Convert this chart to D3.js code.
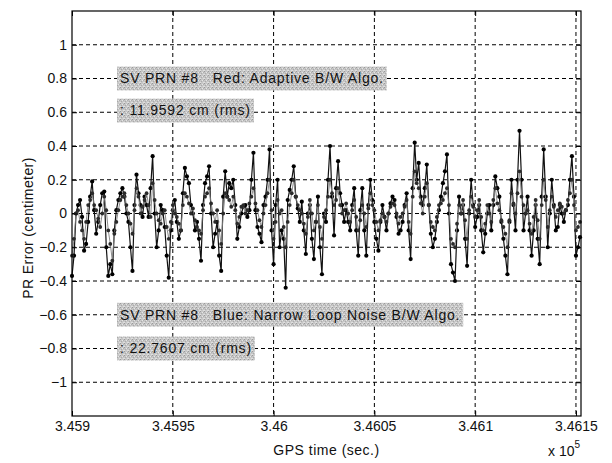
<!DOCTYPE html>
<html>
<head>
<meta charset="utf-8">
<script src="https://cdn.jsdelivr.net/npm/d3@7"></script>
<style>
  body { margin: 0; background: #fff; }
  svg text { font-family: "Liberation Sans", Arial, sans-serif; }
</style>
</head>
<body>
<div id="chart"></div>
<script>
// one sample per second starting at 345900 s
var t0 = 345900, step = 1;

// Blue: Narrow Loop Noise B/W Algo. (dark trace)
var blueErr = [
  -0.37, -0.25, 0.0, 0.05, 0.08, -0.02, -0.22, -0.18, -0.05, 0.1, 0.19, 0.02, -0.12, -0.05, 0.05, 0.12, 0.13, -0.2, -0.37, -0.3,
  -0.36, -0.1, 0.02, 0.08, 0.12, 0.15, 0.1, 0.0, -0.05, -0.2, -0.34, 0.05, 0.23, 0.12, 0.05, -0.02, 0.1, 0.05, -0.02, 0.15,
  0.34, 0.0, -0.2, -0.1, 0.05, 0.02, -0.08, -0.25, -0.38, -0.1, 0.02, 0.08, -0.05, -0.15, -0.1, 0.12, 0.27, 0.22, 0.18, 0.05,
  0.0, -0.1, -0.05, -0.15, -0.28, 0.05, 0.18, 0.22, 0.28, 0.0, -0.2, -0.12, -0.05, -0.25, -0.34, 0.1, 0.25, 0.1, 0.18, 0.15,
  0.2, 0.05, -0.15, -0.08, 0.0, 0.04, 0.05, -0.02, 0.02, 0.2, 0.36, 0.02, -0.08, -0.12, -0.17, 0.05, 0.1, 0.2, 0.38, -0.1,
  -0.3, 0.05, 0.2, -0.2, -0.1, -0.15, -0.44, 0.08, 0.14, 0.2, 0.28, 0.1, 0.03, -0.05, 0.07, -0.1, -0.24, 0.0, 0.05, -0.15,
  -0.27, -0.05, 0.1, -0.2, -0.36, 0.0, -0.05, 0.2, 0.4, 0.1, -0.13, 0.15, 0.31, 0.12, 0.05, -0.05, 0.02, -0.05, -0.1, 0.05,
  0.15, -0.1, -0.25, 0.02, 0.15, -0.1, -0.25, 0.05, 0.2, 0.08, -0.05, -0.15, -0.22, -0.05, 0.05, -0.02, -0.1, 0.0, 0.06, 0.1,
  0.08, -0.02, -0.12, -0.1, -0.05, 0.05, 0.12, -0.1, -0.27, 0.15, 0.42, 0.2, 0.3, 0.1, 0.05, 0.15, 0.29, 0.05, -0.12, -0.2,
  -0.15, -0.05, 0.02, 0.1, 0.18, 0.25, 0.35, 0.0, -0.3, -0.35, -0.4, -0.1, 0.1, 0.0, 0.05, -0.15, -0.31, 0.0, 0.2, 0.05,
  -0.08, -0.02, 0.05, -0.1, -0.23, -0.12, 0.0, 0.05, -0.1, 0.05, 0.22, 0.15, 0.1, -0.05, -0.15, -0.25, -0.36, -0.05, 0.2, 0.05,
  -0.1, 0.2, 0.49, 0.2, -0.1, 0.0, 0.1, -0.1, -0.25, -0.1, 0.05, -0.15, -0.3, 0.1, 0.38, 0.1, -0.2, 0.0, 0.2, 0.05,
  -0.1, -0.08, 0.05, 0.0, -0.05, 0.02, 0.05, 0.2, 0.34, 0.1, -0.25, -0.2, -0.14
];

// Red: Adaptive B/W Algo. (gray trace)
var redErr = [
  -0.25, -0.15, 0.0, 0.02, -0.05, -0.1, -0.15, -0.05, 0.05, 0.08, 0.12, 0.05, 0.02, -0.03, -0.08, 0.0, 0.1, 0.02, -0.1, -0.18,
  -0.28, -0.12, -0.05, 0.02, 0.08, 0.1, 0.12, 0.05, 0.0, -0.06, -0.12, 0.02, 0.15, 0.1, 0.0, 0.04, 0.08, 0.12, 0.05, -0.02,
  0.18, 0.08, 0.0, -0.04, -0.06, 0.0, 0.02, -0.08, -0.15, -0.05, 0.05, 0.0, -0.02, -0.06, -0.1, 0.05, 0.12, 0.1, 0.06, 0.0,
  0.03, -0.04, -0.08, -0.1, -0.12, 0.02, 0.1, 0.12, 0.15, 0.06, 0.0, -0.05, 0.02, -0.1, -0.18, 0.0, 0.12, 0.1, 0.08, 0.04,
  0.1, 0.02, -0.06, -0.02, 0.04, 0.05, 0.0, 0.02, 0.06, 0.1, 0.15, 0.06, 0.02, -0.04, -0.08, 0.0, 0.05, 0.12, 0.2, 0.02,
  -0.15, -0.05, 0.08, 0.0, 0.02, -0.08, -0.2, -0.05, 0.05, 0.12, 0.2, 0.1, 0.05, 0.02, 0.0, -0.06, -0.12, -0.02, 0.08, 0.0,
  -0.1, -0.05, 0.05, -0.08, -0.15, -0.02, 0.02, 0.1, 0.2, 0.12, 0.05, 0.08, 0.15, 0.05, 0.0, 0.02, 0.06, 0.0, -0.05, 0.02,
  0.08, -0.02, -0.1, -0.04, 0.05, 0.0, -0.08, 0.03, 0.12, 0.05, 0.02, -0.05, -0.1, -0.04, 0.0, -0.02, -0.05, 0.0, 0.04, 0.06,
  0.05, 0.0, -0.06, -0.02, 0.0, 0.04, 0.08, -0.05, -0.12, 0.1, 0.25, 0.18, 0.15, 0.06, 0.0, 0.1, 0.18, 0.05, -0.05, -0.08,
  -0.1, -0.02, 0.05, 0.06, 0.08, 0.12, 0.15, 0.05, -0.15, -0.18, -0.2, -0.06, 0.05, 0.0, 0.08, -0.04, -0.15, 0.02, 0.1, 0.04,
  -0.02, 0.02, 0.08, -0.02, -0.1, -0.06, 0.05, 0.0, -0.05, 0.08, 0.15, 0.06, 0.02, -0.04, -0.08, -0.12, -0.2, -0.04, 0.12, 0.06,
  0.0, 0.12, 0.25, 0.1, 0.05, 0.0, 0.02, -0.06, -0.12, -0.02, 0.08, -0.04, -0.15, 0.05, 0.2, 0.08, -0.08, 0.02, 0.1, 0.04,
  -0.02, 0.02, 0.06, 0.04, 0.0, 0.02, 0.08, 0.12, 0.2, 0.05, -0.1, -0.08, -0.05
];

var xTicks = [345900, 345950, 346000, 346050, 346100, 346150];
var xTickLabels = ["3.459", "3.4595", "3.46", "3.4605", "3.461", "3.4615"];
var yTicks = [-1, -0.8, -0.6, -0.4, -0.2, 0, 0.2, 0.4, 0.6, 0.8, 1];

var notes = [
  {text: "SV PRN #8   Red: Adaptive B/W Algo.", v: 0.8},
  {text: ": 11.9592 cm (rms)", v: 0.61},
  {text: "SV PRN #8   Blue: Narrow Loop Noise B/W Algo.", v: -0.6},
  {text: ": 22.7607 cm (rms)", v: -0.8}
];

var W = 612, H = 463;
var margin = {top: 11, right: 31, bottom: 47, left: 72},
    width = W - margin.left - margin.right,
    height = H - margin.top - margin.bottom;

var svg = d3.select("#chart").append("svg")
    .attr("width", W)
    .attr("height", H);

// stipple pattern for the gray text boxes
var defs = svg.append("defs");
var pat = defs.append("pattern")
    .attr("id", "stip")
    .attr("width", 4).attr("height", 4)
    .attr("patternUnits", "userSpaceOnUse");
pat.append("rect").attr("width", 4).attr("height", 4).attr("fill", "#c6c6c6");
[[0,0,"#9a9a9a"],[2,1,"#e6e6e6"],[1,2,"#aaaaaa"],[3,3,"#dedede"],[3,1,"#b0b0b0"],[0,3,"#e0e0e0"]].forEach(function(p) {
  pat.append("rect").attr("x", p[0]).attr("y", p[1]).attr("width", 1).attr("height", 1).attr("fill", p[2]);
});

var g = svg.append("g")
    .attr("transform", "translate(" + margin.left + "," + margin.top + ")");

var x = d3.scaleLinear()
    .domain([345900, 346152.5])
    .range([0, width]);

var y = d3.scaleLinear()
    .domain([-1.2, 1.2])
    .range([height, 0]);

// grid
g.append("g").selectAll("line.gx")
    .data(xTicks.slice(1))
    .enter().append("line")
    .attr("x1", d => x(d)).attr("x2", d => x(d))
    .attr("y1", 0).attr("y2", height)
    .attr("stroke", "#000").attr("stroke-width", 1)
    .attr("stroke-dasharray", "4,3");

g.append("g").selectAll("line.gy")
    .data(yTicks)
    .enter().append("line")
    .attr("x1", 0).attr("x2", width)
    .attr("y1", d => y(d)).attr("y2", d => y(d))
    .attr("stroke", "#000").attr("stroke-width", 1)
    .attr("stroke-dasharray", "4,3");

// text boxes
var boxes = g.append("g");
notes.forEach(function(n) {
  var t = boxes.append("text")
      .attr("x", 120 - margin.left)
      .attr("y", y(n.v))
      .attr("dy", "0.35em")
      .attr("font-size", 14)
      .attr("letter-spacing", 0.8)
      .attr("fill", "#111")
      .style("white-space", "pre")
      .text(n.text);
  var bb = t.node().getBBox();
  boxes.insert("rect", "text")
      .attr("x", bb.x - 3)
      .attr("y", y(n.v) - 12)
      .attr("width", bb.width + 6)
      .attr("height", 24)
      .attr("fill", "url(#stip)");
});

// data
var red = redErr.map((v, i) => ({t: t0 + i * step, v: v}));
var blue = blueErr.map((v, i) => ({t: t0 + i * step, v: v}));

var line = d3.line().x(d => x(d.t)).y(d => y(d.v));

var plot = g.append("g");
plot.append("path").datum(blue)
    .attr("d", line).attr("fill", "none")
    .attr("stroke", "#111").attr("stroke-width", 1.2);
plot.append("g").selectAll("circle")
    .data(blue).enter().append("circle")
    .attr("cx", d => x(d.t)).attr("cy", d => y(d.v))
    .attr("r", 2.1).attr("fill", "#000");

plot.append("path").datum(red)
    .attr("d", line).attr("fill", "none")
    .attr("stroke", "#808080").attr("stroke-width", 0.9);
plot.append("g").selectAll("circle")
    .data(red).enter().append("circle")
    .attr("cx", d => x(d.t)).attr("cy", d => y(d.v))
    .attr("r", 1.9).attr("fill", "#2a2a2a");

// axes (ticks inside, MATLAB style)
g.append("g")
    .attr("transform", "translate(0," + height + ")")
    .call(d3.axisBottom(x).tickValues(xTicks).tickSizeInner(-5).tickSizeOuter(0).tickPadding(5)
      .tickFormat((d, i) => xTickLabels[i]))
    .call(a => a.select(".domain").remove());

g.append("g")
    .call(d3.axisLeft(y).tickValues(yTicks).tickSizeInner(-5).tickSizeOuter(0).tickPadding(5)
      .tickFormat(d => d === 0 ? "0" : d3.format("")(+d.toFixed(1))))
    .call(a => a.select(".domain").remove());

g.append("g")
    .call(d3.axisTop(x).tickValues(xTicks).tickSizeInner(-5).tickSizeOuter(0).tickFormat(""))
    .call(a => a.select(".domain").remove());

g.append("g")
    .attr("transform", "translate(" + width + ",0)")
    .call(d3.axisRight(y).tickValues(yTicks).tickSizeInner(-5).tickSizeOuter(0).tickFormat(""))
    .call(a => a.select(".domain").remove());

g.selectAll(".tick text")
    .attr("font-size", 14)
    .attr("font-family", "Liberation Sans, Arial, sans-serif")
    .attr("fill", "#111");
g.selectAll(".tick line").attr("stroke", "#000");

g.append("rect")
    .attr("width", width).attr("height", height)
    .attr("fill", "none").attr("stroke", "#000").attr("stroke-width", 1.2);

// labels
svg.append("text")
    .attr("x", margin.left + width / 2)
    .attr("y", 455)
    .attr("text-anchor", "middle")
    .attr("font-size", 14)
    .attr("letter-spacing", 0.5)
    .attr("fill", "#111")
    .text("GPS time (sec.)");

svg.append("text")
    .attr("transform", "translate(33,228) rotate(-90)")
    .attr("text-anchor", "middle")
    .attr("font-size", 14)
    .attr("letter-spacing", 0.4)
    .attr("fill", "#111")
    .text("PR Error (centimeter)");

var ex = svg.append("text")
    .attr("x", 548)
    .attr("y", 456)
    .attr("font-size", 14)
    .attr("fill", "#111");
ex.append("tspan").text("x 10");
ex.append("tspan").attr("dy", -8).attr("font-size", 10).text("5");
</script>
</body>
</html>
